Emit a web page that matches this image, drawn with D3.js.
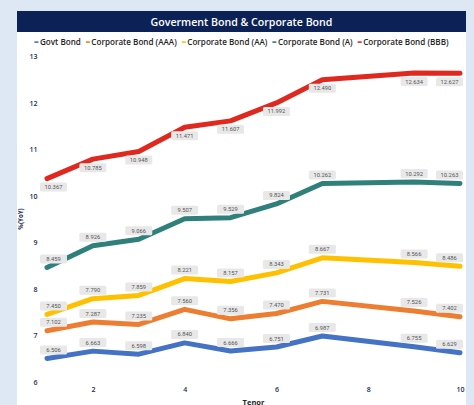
<!DOCTYPE html>
<html lang="en">
<head>
    <meta charset="UTF-8">
    <title>Goverment Bond & Corporate Bond</title>
    <script src="https://d3js.org/d3.v7.min.js"></script>
    <style>
        body { margin: 0; background: #dde8f4; }
        svg { display: block; }
    </style>
</head>
<body>
    <script>
        var width = 474;
        var height = 405;

        // data
        var tenor = [1, 2, 3, 4, 5, 6, 7, 9, 10];
        var govt = [6.506, 6.663, 6.598, 6.840, 6.666, 6.751, 6.987, 6.755, 6.629];
        var corpAAA = [7.102, 7.287, 7.235, 7.560, 7.356, 7.470, 7.731, 7.526, 7.402];
        var corpAA = [7.450, 7.790, 7.859, 8.221, 8.157, 8.343, 8.667, 8.566, 8.486];
        var corpA = [8.459, 8.926, 9.066, 9.507, 9.529, 9.824, 10.262, 10.292, 10.263];
        var corpBBB = [10.367, 10.785, 10.948, 11.471, 11.607, 11.992, 12.490, 12.634, 12.627];
        var xTicks = [2, 4, 6, 8, 10];
        var yTicks = [6, 7, 8, 9, 10, 11, 12, 13];

        var series = [
            {name: "Govt Bond", values: govt, color: "#4472c4", below: false},
            {name: "Corporate Bond (AAA)", values: corpAAA, color: "#ed7d31", below: false},
            {name: "Corporate Bond (AA)", values: corpAA, color: "#ffc000", below: false},
            {name: "Corporate Bond (A)", values: corpA, color: "#2f7f7b", below: false},
            {name: "Corporate Bond (BBB)", values: corpBBB, color: "#e0281e", below: true}
        ];

        var card = {left: 17, right: 466, top: 11};
        var margin = {top: 56, right: 14, bottom: 23, left: 47};

        var svg = d3.select("body").append("svg")
            .attr("width", width)
            .attr("height", height)

        // card and title bar
        svg.append("rect")
            .attr("x", card.left).attr("y", card.top)
            .attr("width", card.right - card.left).attr("height", height - card.top)
            .attr("fill", "#ffffff")

        svg.append("rect")
            .attr("x", card.left).attr("y", card.top)
            .attr("width", card.right - card.left).attr("height", 21)
            .attr("fill", "#0c2257")

        svg.append("text")
            .attr("x", (card.left + card.right) / 2).attr("y", card.top + 14.5)
            .attr("text-anchor", "middle")
            .attr("font-family", "Open Sans")
            .attr("font-weight", 600)
            .attr("font-size", 10.6)
            .attr("fill", "#ffffff")
            .text("Goverment Bond & Corporate Bond")

        // legend
        var legend = svg.append("g").attr("font-family", "Open Sans").attr("font-weight", 600)
            .attr("font-size", 8.1).attr("fill", "#252423")
        var lx = 0;
        series.forEach(function (s) {
            var g = legend.append("g").attr("transform", "translate(" + lx + ",0)");
            g.append("rect").attr("x", 0).attr("y", -3.2).attr("width", 4).attr("height", 1.6).attr("fill", s.color);
            var t = g.append("text").attr("x", 5.5).attr("y", 0).text(s.name);
            lx += 5.5 + t.node().getComputedTextLength() + 5;
        });
        lx -= 5;
        legend.attr("transform", "translate(" + ((card.left + card.right) / 2 - lx / 2) + ",44.5)")

        // scales
        var xScale = d3.scaleLinear().domain([1, 10]).range([margin.left, width - margin.right])
        var yScale = d3.scaleLinear().domain([6, 13]).range([height - margin.bottom, margin.top])

        var xAxis = d3.axisBottom(xScale).tickValues(xTicks).tickSize(0).tickPadding(0)
        var yAxis = d3.axisLeft(yScale).tickValues(yTicks).tickSize(0).tickPadding(0)
            .tickFormat(d3.format("d"))

        var gx = svg.append("g")
            .attr("transform", "translate(0," + (height - margin.bottom + 4) + ")")
            .call(xAxis)
        var gy = svg.append("g")
            .attr("transform", "translate(" + (margin.left - 9.5) + ",0)")
            .call(yAxis)
        svg.selectAll(".domain").remove()
        svg.selectAll(".tick text")
            .attr("font-family", "Open Sans")
            .attr("font-weight", 600)
            .attr("font-size", 7)
            .attr("fill", "#1d2b55")
        gy.selectAll(".tick text").attr("dy", "0.35em")
        gx.selectAll(".tick text").attr("dy", "0.8em")

        svg.append("text")
            .attr("transform", "translate(23," + ((margin.top + height - margin.bottom) / 2) + ") rotate(-90)")
            .attr("text-anchor", "middle")
            .attr("font-family", "Open Sans").attr("font-weight", 700)
            .attr("font-size", 6.2).attr("fill", "#1d2b55")
            .text("%(YoY)")

        svg.append("text")
            .attr("x", (xScale.range()[0] + xScale.range()[1]) / 2).attr("y", 404.5)
            .attr("text-anchor", "middle")
            .attr("font-family", "Open Sans").attr("font-weight", 700)
            .attr("font-size", 7.5).attr("fill", "#252423")
            .text("Tenor")

        // lines
        var line = d3.line()
            .x((d, i) => xScale(tenor[i]))
            .y((d, i) => yScale(d))

        svg.selectAll(".series")
            .data(series)
            .join("path")
            .attr("class", "series")
            .attr("d", d => line(d.values))
            .attr("fill", "none")
            .attr("stroke", d => d.color)
            .attr("stroke-width", 5)
            .attr("stroke-linejoin", "round")
            .attr("stroke-linecap", "round")

        // data labels
        var boxW = 27, boxH = 9;
        var labels = svg.append("g");
        series.forEach(function (s) {
            s.values.forEach(function (v, i) {
                var px = xScale(tenor[i]);
                var py = yScale(v);
                var bx = Math.max(40, Math.min(463 - boxW, px - boxW / 2));
                var by = s.below ? py + 4 : py - 4 - boxH;
                labels.append("rect")
                    .attr("x", bx).attr("y", by)
                    .attr("width", boxW).attr("height", boxH)
                    .attr("rx", 1.5)
                    .attr("fill", "#e8e8e8")
                labels.append("text")
                    .attr("x", bx + boxW / 2).attr("y", by + boxH / 2)
                    .attr("dy", "0.35em")
                    .attr("text-anchor", "middle")
                    .attr("font-family", "Roboto")
                    .attr("font-size", 5.8)
                    .attr("fill", "#555555")
                    .text(v.toFixed(3))
            });
        });
    </script>
</body>
</html>
